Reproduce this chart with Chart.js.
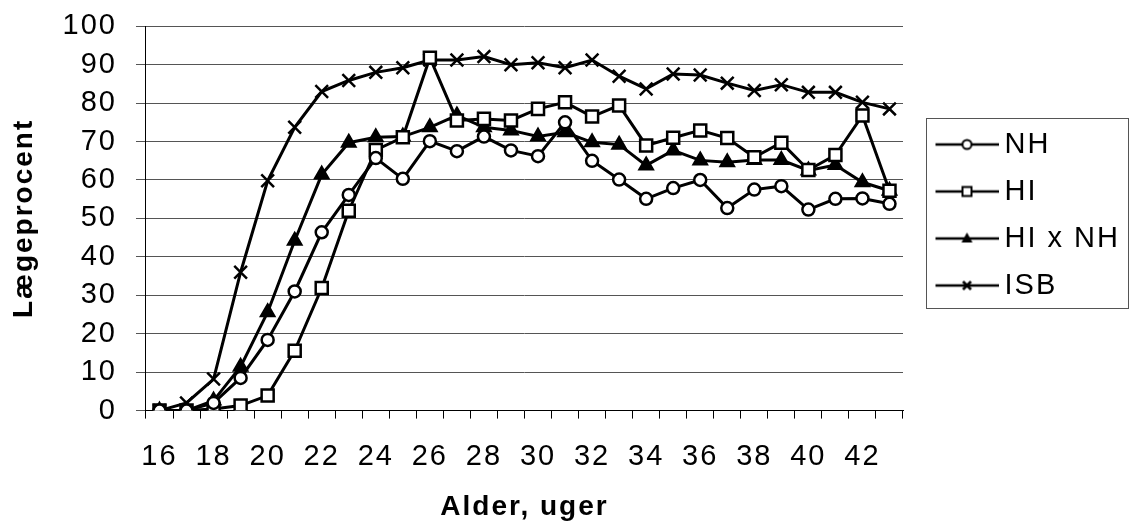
<!DOCTYPE html>
<html>
<head>
<meta charset="utf-8">
<script src="https://cdn.jsdelivr.net/npm/chart.js@4"></script>
<style>
  html, body { margin: 0; padding: 0; background: #fff; }
  #wrap { width: 1133px; height: 527px; }
</style>
</head>
<body>
<div id="wrap"><canvas id="eggChart"></canvas></div>
<script>
// alder i uger
const weeks = [16, 17, 18, 19, 20, 21, 22, 23, 24, 25, 26, 27, 28, 29,
  30, 31, 32, 33, 34, 35, 36, 37, 38, 39, 40, 41, 42, 43];

const nh = [0, 0, 2, 8.5, 18.4, 31, 46.4, 56.1, 65.7, 60.3, 70.1, 67.5, 71.3, 67.7,
  66.2, 75, 65, 60.1, 55.1, 57.9, 60, 52.7, 57.5, 58.4, 52.3, 55.1, 55.2, 53.8];
const hi = [0, 0, 0.4, 1.3, 3.9, 15.6, 31.9, 52, 67.8, 71.1, 91.8, 75.5, 75.9, 75.5,
  78.5, 80.2, 76.5, 79.4, 69, 71, 72.9, 70.9, 65.9, 69.7, 62.6, 66.5, 76.8, 57.2];
const hiNh = [0, 0, 2.6, 11.4, 25.6, 44.2, 61.4, 69.7, 71.1, 71.3, 73.7, 76.8, 73.7, 72.9,
  71.3, 72.4, 69.8, 69.2, 63.8, 67.7, 65.1, 64.6, 65.2, 65.2, 62.5, 63.9, 59.4, 57.2];
const isb = [0, 2, 8.2, 36, 59.8, 73.7, 83, 85.9, 88, 89.2, 91.2, 91.2, 92.1, 90,
  90.5, 89.2, 91.2, 87, 83.7, 87.6, 87.3, 85.2, 83.3, 84.8, 82.8, 82.8, 80.2, 78.5];

const seriesNames = ['NH', 'HI', 'HI x NH', 'ISB'];
const yTicks = [0, 10, 20, 30, 40, 50, 60, 70, 80, 90, 100];

const FONT = "'Liberation Sans', Arial, sans-serif";
const BOX_W = 69;           // pladsen til ikonet i forklaringen
const ICON_W = BOX_W + 17;  // ikonet er bredere, linjen sidder til højre

// lille ikon til forklaringen: linje med markør i midten
function legendIcon(kind) {
  const c = document.createElement('canvas');
  c.width = ICON_W; c.height = 20;
  const g = c.getContext('2d');
  const x0 = ICON_W - 63, mid = ICON_W - 31.5;
  g.strokeStyle = '#000';
  g.lineWidth = 2.5;
  g.beginPath(); g.moveTo(x0, 10); g.lineTo(ICON_W, 10); g.stroke();
  g.lineWidth = 2;
  if (kind === 'circle') {
    g.beginPath(); g.arc(mid, 10, 4.5, 0, Math.PI * 2);
    g.fillStyle = '#fff'; g.fill(); g.stroke();
  } else if (kind === 'rect') {
    g.fillStyle = '#fff';
    g.fillRect(mid - 4.5, 5.5, 9, 9); g.strokeRect(mid - 4.5, 5.5, 9, 9);
  } else if (kind === 'triangle') {
    g.beginPath(); g.moveTo(mid, 4); g.lineTo(mid + 5.5, 14); g.lineTo(mid - 5.5, 14); g.closePath();
    g.fillStyle = '#000'; g.fill();
  } else {
    g.lineWidth = 2.5;
    g.beginPath();
    g.moveTo(mid - 4, 6); g.lineTo(mid + 4, 14);
    g.moveTo(mid + 4, 6); g.lineTo(mid - 4, 14);
    g.stroke();
  }
  return c;
}

const styles = ['circle', 'rect', 'triangle', 'crossRot'];
const icons = styles.map(legendIcon);

function makeSet(i, data, radius, fill) {
  return {
    label: seriesNames[i],
    data: data,
    borderColor: '#000',
    borderWidth: 3,
    pointStyle: styles[i],
    pointRadius: radius,
    pointBorderWidth: 2.5,
    pointBorderColor: '#000',
    pointBackgroundColor: fill,
    tension: 0
  };
}

const spacing = {
  id: 'spacing',
  beforeLayout(chart) { chart.ctx.letterSpacing = '2px'; },
  beforeDraw(chart) { chart.ctx.letterSpacing = '2px'; }
};

// ramme om forklaringen
const legendFrame = {
  id: 'legendFrame',
  afterDraw(chart) {
    const boxes = chart.legend.legendHitBoxes;
    if (!boxes || !boxes.length) return;
    const ctx = chart.ctx;
    let l = Infinity, t = Infinity, r = -Infinity, b = -Infinity;
    boxes.forEach(h => {
      l = Math.min(l, h.left); t = Math.min(t, h.top);
      r = Math.max(r, h.left + h.width); b = Math.max(b, h.top + h.height);
    });
    const fl = Math.round(l + BOX_W - 64.5), ft = Math.round(t - 12.5);
    const fr = Math.round(r + 8), fb = Math.round(b + 8);
    ctx.save();
    ctx.strokeStyle = '#555';
    ctx.lineWidth = 1;
    ctx.strokeRect(fl + 0.5, ft + 0.5, fr - fl, fb - ft);
    ctx.restore();
  }
};

const ctx = document.getElementById('eggChart').getContext('2d');

const chart = new Chart(ctx, {
  type: 'line',
  data: {
    labels: weeks,
    datasets: [
      makeSet(0, nh, 6, '#fff'),
      makeSet(1, hi, 8.5, '#fff'),
      makeSet(2, hiNh, 7.5, '#000'),
      makeSet(3, isb, 9, '#000')
    ]
  },
  options: {
    responsive: true,
    maintainAspectRatio: false,
    animation: false,
    layout: { padding: { left: 4, top: 4, right: 3, bottom: 3 } },
    plugins: {
      tooltip: { enabled: false },
      legend: {
        position: 'right',
        align: 'start',
        title: {
          display: true,
          text: '',
          font: { size: 10, lineHeight: 1 },
          padding: { top: 98, bottom: 0 }
        },
        labels: {
          usePointStyle: true,
          pointStyleWidth: BOX_W,
          padding: 18,
          color: '#000',
          font: { family: FONT, size: 29 },
          generateLabels: (ch) => ch.data.datasets.map((ds, i) => ({
            text: ds.label,
            pointStyle: icons[i],
            datasetIndex: i,
            fillStyle: 'transparent',
            strokeStyle: 'transparent',
            lineWidth: 0,
            fontColor: '#000'
          }))
        }
      }
    },
    scales: {
      x: {
        type: 'category',
        offset: true,
        grid: {
          offset: true,
          drawOnChartArea: false,
          drawTicks: true,
          tickLength: 8,
          color: '#000'
        },
        border: { color: '#000', width: 1 },
        ticks: {
          autoSkip: false,
          maxRotation: 0,
          padding: 21,
          color: '#000',
          font: { family: FONT, size: 29 },
          callback: function (v, i) { return weeks[i] % 2 === 0 ? String(weeks[i]) : ''; }
        },
        title: {
          display: true,
          text: 'Alder, uger',
          color: '#000',
          font: { family: FONT, size: 28, weight: 'bold' },
          padding: { top: -5, bottom: 0 }
        }
      },
      y: {
        min: 0,
        max: 100,
        afterBuildTicks: (axis) => { axis.ticks = yTicks.map(v => ({ value: v })); },
        grid: {
          color: '#555',
          tickLength: 10,
          drawTicks: true
        },
        border: { color: '#000', width: 1 },
        ticks: {
          autoSkip: false,
          padding: 19,
          color: '#000',
          font: { family: FONT, size: 29, lineHeight: 0.5 }
        },
        title: {
          display: true,
          text: 'Lægeprocent',
          color: '#000',
          font: { family: FONT, size: 28, weight: 'bold' },
          padding: { top: 3, bottom: 3 }
        }
      }
    }
  },
  plugins: [spacing, legendFrame]
});
</script>
</body>
</html>
